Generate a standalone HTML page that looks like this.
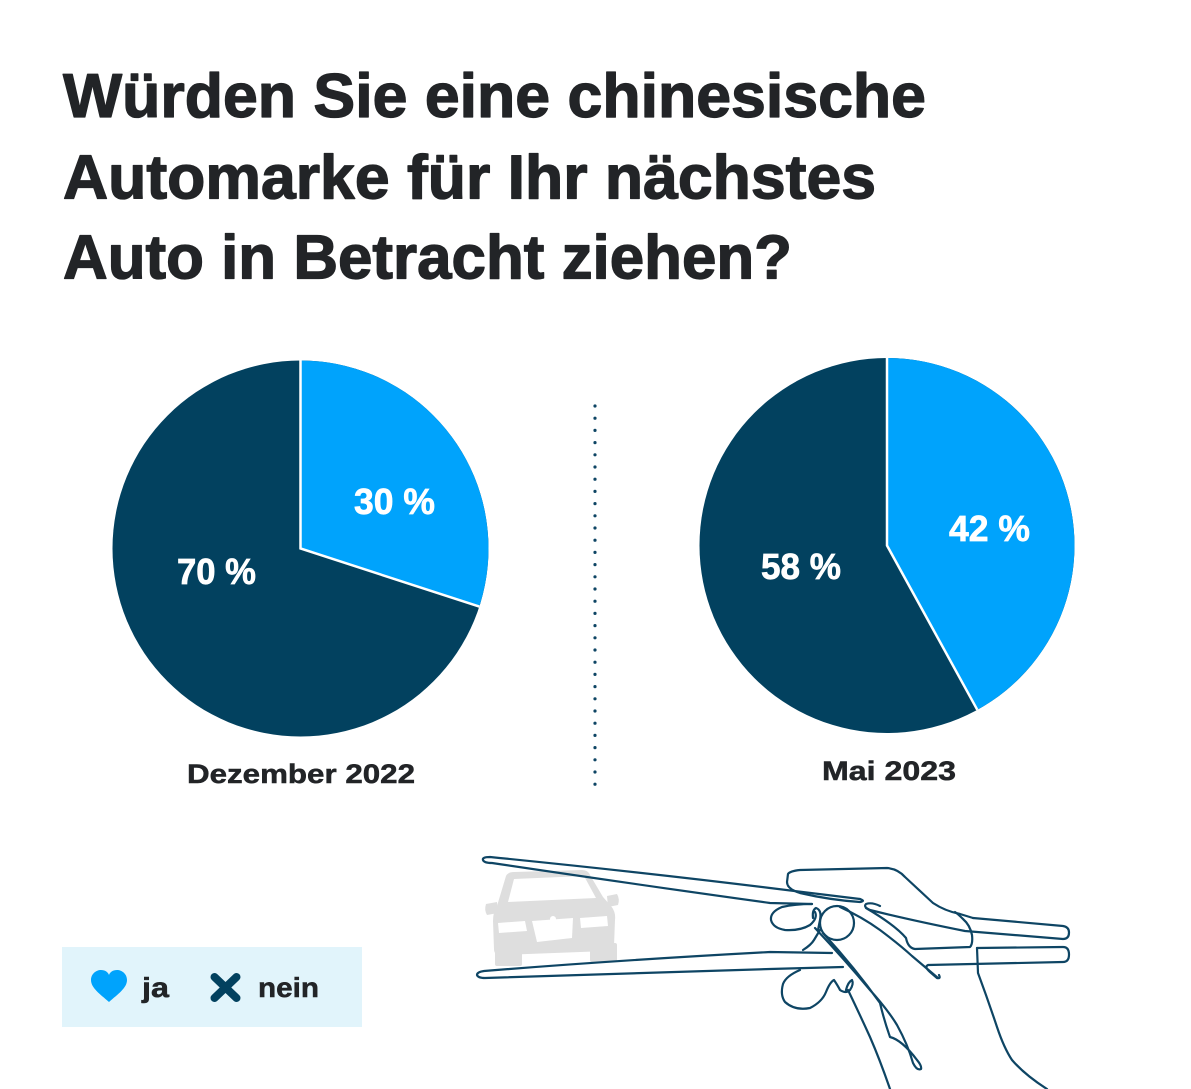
<!DOCTYPE html>
<html>
<head>
<meta charset="utf-8">
<style>
  html,body{margin:0;padding:0;background:#fff;}
  svg{display:block;}
  text{font-family:"Liberation Sans",Arial,sans-serif;font-weight:700;}
</style>
</head>
<body>
<svg width="1191" height="1089" viewBox="0 0 1191 1089" xmlns="http://www.w3.org/2000/svg">
  <rect width="1191" height="1089" fill="#ffffff"/>

  <!-- Title -->
  <g fill="#222427" stroke="#222427" stroke-width="1.3" stroke-linejoin="round" font-size="62">
    <text x="63" y="117" textLength="863" lengthAdjust="spacingAndGlyphs">Würden Sie eine chinesische</text>
    <text x="63" y="198.5" textLength="813" lengthAdjust="spacingAndGlyphs">Automarke für Ihr nächstes</text>
    <text x="63" y="278.5" textLength="729" lengthAdjust="spacingAndGlyphs">Auto in Betracht ziehen?</text>
  </g>

  <!-- Pie 1 -->
  <circle cx="300.5" cy="548.5" r="188" fill="#02415f"/>
  <path d="M300.5 548.5 L300.5 360.5 A188 188 0 0 1 479.3 606.6 Z" fill="#00a3fc"/>
  <path d="M300.5 360.5 L300.5 548.5 L479.3 606.6" fill="none" stroke="#ffffff" stroke-width="2.5"/>
  <g fill="#ffffff" stroke="#ffffff" stroke-width="0.7" font-size="36">
    <text x="354" y="514" textLength="81" lengthAdjust="spacingAndGlyphs">30 %</text>
    <text x="177" y="584" textLength="79" lengthAdjust="spacingAndGlyphs">70 %</text>
  </g>

  <!-- Pie 2 -->
  <circle cx="887" cy="545.5" r="187.5" fill="#02415f"/>
  <path d="M887 545.5 L887 358 A187.5 187.5 0 0 1 977.3 709.8 Z" fill="#00a3fc"/>
  <path d="M887 358 L887 545.5 L977.3 709.8" fill="none" stroke="#ffffff" stroke-width="2.5"/>
  <g fill="#ffffff" stroke="#ffffff" stroke-width="0.7" font-size="36">
    <text x="949" y="541" textLength="81" lengthAdjust="spacingAndGlyphs">42 %</text>
    <text x="761" y="579" textLength="80" lengthAdjust="spacingAndGlyphs">58 %</text>
  </g>

  <!-- Dotted divider -->
  <line x1="595" y1="406" x2="595" y2="786" stroke="#0e4564" stroke-width="3.2" stroke-linecap="round" stroke-dasharray="0 12.2"/>

  <!-- Pie labels -->
  <g fill="#222427" stroke="#222427" stroke-width="0.5" font-size="27">
    <text x="187" y="783" textLength="228" lengthAdjust="spacingAndGlyphs">Dezember 2022</text>
    <text x="822" y="780" textLength="134" lengthAdjust="spacingAndGlyphs">Mai 2023</text>
  </g>

  <!-- Legend -->
  <rect x="62" y="947" width="300" height="80" fill="#e1f4fb"/>
  <path d="M109 1002 C 100 994, 91 988, 91 980 C 91 974, 96 970, 101 970 C 105 970, 108 972, 109 975 C 110 972, 113 970, 117 970 C 122 970, 127 974, 127 980 C 127 988, 118 994, 109 1002 Z" fill="#00a3fc"/>
  <g stroke="#02415f" stroke-width="8" stroke-linecap="round">
    <line x1="214.5" y1="977" x2="236.5" y2="998"/>
    <line x1="236.5" y1="977" x2="214.5" y2="998"/>
  </g>
  <g fill="#222427" stroke="#222427" stroke-width="0.5" font-size="28">
    <text x="142" y="997" textLength="27" lengthAdjust="spacingAndGlyphs">ja</text>
    <text x="258" y="997" textLength="61" lengthAdjust="spacingAndGlyphs">nein</text>
  </g>

  <!-- Car silhouette -->
  <g fill="#dedede">
    <path d="M506 876 Q508 872 514 872 L582 870 Q588 870 590 875 L603 897 L611 906 Q616 912 615 920 L614 946 Q613 951 607 951 L500 955 Q494 955 494 949 L493 921 Q493 912 497 906 Z"/>
    <path d="M486 904 L497 902 L498 913 L487 915 Q484 910 486 904 Z"/>
    <path d="M607 896 L617 894 Q620 899 618 905 L608 907 Z"/>
    <rect x="495" y="946" width="27" height="20" rx="2"/>
    <rect x="590" y="943" width="27" height="19" rx="2"/>
  </g>
  <g fill="#ffffff">
    <path d="M514 879 L584 876 L596 898 L508 902 Z"/>
    <path d="M498 923 L525 921 L527 931 L499 933 Z"/>
    <path d="M580 918 L607 916 L608 926 L581 928 Z"/>
    <path d="M532 921 L573 918 L572 938 L537 942 Z"/>
    <circle cx="553" cy="919" r="3"/>
  </g>

  <!-- Hand with chopsticks (line art) -->
  <g fill="none" stroke="#0e4564" stroke-width="2.2" stroke-linecap="round" stroke-linejoin="round">
    <path d="M860 899 L770 888 Q640 872 490 857 Q482 857 483 860 Q484 863 492 863 Q640 885 770 903 L812 904"/>
    <path d="M973 918 L1063 926 Q1069 927 1069 932.5 Q1069 939 1063 939 L965 931 Q910 920 870 910 Q863 907 866 904 Q872 902 880 906"/>
    <path d="M832 953 L770 952 Q620 960 484 971 Q477 972 477 975 Q478 978 485 978 Q640 973 770 969 L843 967"/>
    <path d="M977 948 L1063 947 Q1069 947 1069 954.5 Q1069 962 1063 962 L928 965 Q924 967 930 972 L937 978 Q941 979 939 975"/>
    <path d="M860 899 Q866 901 860 902 Q830 900 800 893 Q787 889 787 882 L788 874 Q790 871 800 870 L887 868 Q898 869 905 877 L933 903 Q945 911 960 914 L973 918"/>
    <path d="M866 908 Q895 925 906 938 Q908 948 915 949 L970 947 Q973 944 972 935 Q970 925 963 919 Q958 914 955 912"/>
    <path d="M812 904 Q795 904 782 907 Q770 912 771 920 Q773 928 785 930 Q800 931 810 925 Q818 918 815 912"/>
    <circle cx="837" cy="923" r="17"/>
    <path d="M813 918 Q812 910 816 908 Q822 910 820 920 L818 930"/>
    <path d="M815 928 Q845 960 870 990 Q888 1010 897 1025 Q908 1045 913 1063 Q917 1071 921 1069 Q922 1066 917 1060 Q902 1040 890 1037 Q884 1020 880 1003 Q855 968 823 933"/>
    <path d="M840 907 Q862 917 880 930 Q900 945 912 956 L938 978"/>
    <path d="M800 970 Q786 976 783 984 Q780 995 785 1002 Q795 1011 810 1008 Q822 1002 826 992 Q830 982 834 980 Q838 986 840 990 Q846 994 850 990 Q854 984 852 980 Q848 982 846 990"/>
    <path d="M803 950 Q811 945 814 940 L820 930"/>
    <path d="M977 948 L978 973 Q988 1000 997 1027 Q1004 1048 1012 1060 Q1025 1075 1047 1089"/>
    <path d="M848 990 Q860 1015 870 1037 Q880 1060 890 1089"/>
  </g>
</svg>
</body>
</html>
